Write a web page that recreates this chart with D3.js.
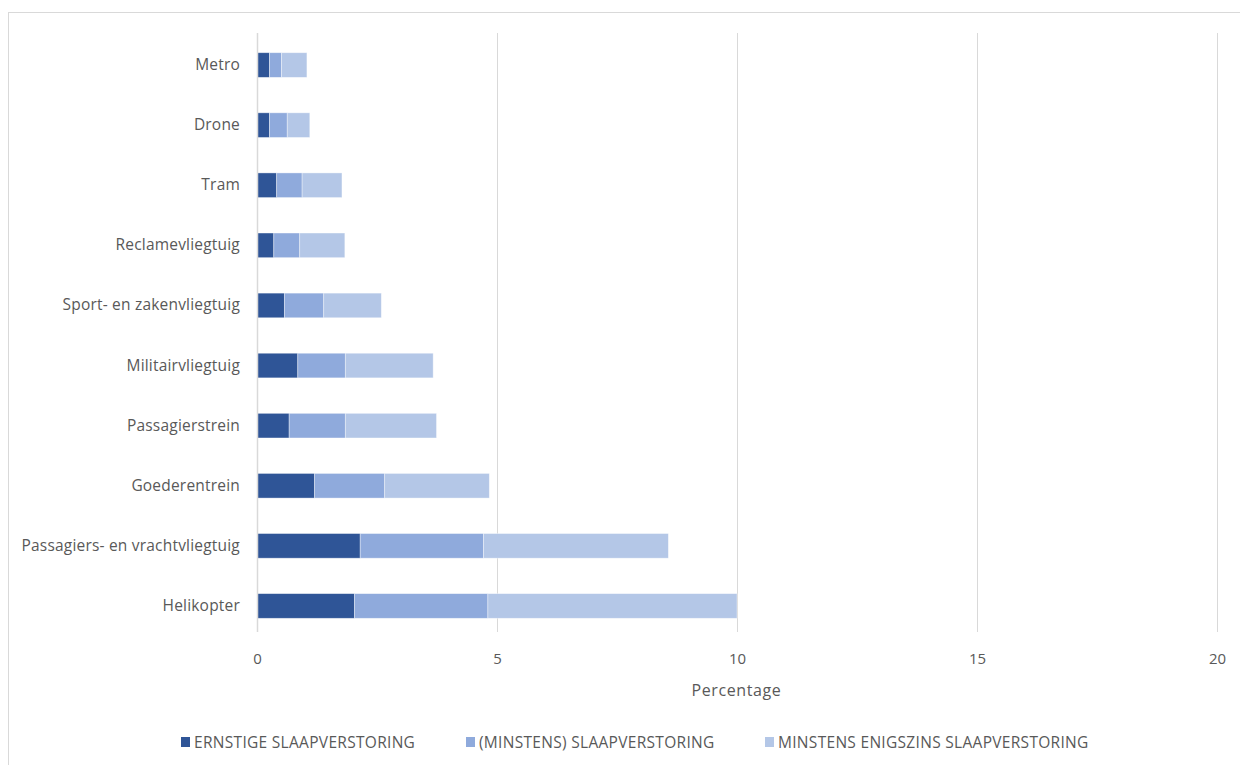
<!DOCTYPE html>
<html>
<head>
<meta charset="utf-8">
<script src="https://cdn.jsdelivr.net/npm/d3@7"></script>
<style>
  html, body { margin: 0; padding: 0; background: #fff; }
  svg { display: block; font-family: "Open Sans", "Liberation Sans", Arial, sans-serif; }
</style>
</head>
<body>
<svg id="chart" width="1240" height="765"></svg>
<script>
const categories = ["Metro", "Drone", "Tram", "Reclamevliegtuig", "Sport- en zakenvliegtuig",
  "Militairvliegtuig", "Passagierstrein", "Goederentrein", "Passagiers- en vrachtvliegtuig", "Helikopter"];
const seriesNames = ["ERNSTIGE SLAAPVERSTORING", "(MINSTENS) SLAAPVERSTORING", "MINSTENS ENIGSZINS SLAAPVERSTORING"];
const ernstig   = [0.26, 0.26, 0.41, 0.35, 0.57, 0.85, 0.67, 1.20, 2.15, 2.03];
const minstens  = [0.25, 0.37, 0.53, 0.54, 0.82, 0.99, 1.17, 1.46, 2.57, 2.78];
const enigszins = [0.53, 0.47, 0.83, 0.94, 1.20, 1.83, 1.90, 2.18, 3.85, 5.19];
const xTicks = [0, 5, 10, 15, 20];
const colors = ["#2F5597", "#8FAADC", "#B4C7E7"];
const axisTitle = "Percentage";

(function () {
const FONT = "Open Sans, Liberation Sans, Arial, sans-serif";
const svg = d3.select("#chart");
svg.append("rect").attr("x", 8.5).attr("y", 12.5).attr("width", 1260).attr("height", 800)
  .attr("fill", "#fff").attr("stroke", "#d9d9d9").attr("stroke-width", 1);

const pL = 257, pR = 1217, pT = 33, pB = 632;
const x = d3.scaleLinear().domain([0, 20]).range([pL, pR]);
const y = d3.scaleBand().domain(categories).range([pT, 638]).paddingInner(0.59).paddingOuter(0.328);

svg.append("g").selectAll("line").data(xTicks.slice(1)).join("line")
  .attr("x1", d => x(d) + 0.5).attr("x2", d => x(d) + 0.5)
  .attr("y1", pT).attr("y2", pB)
  .attr("stroke", "#d9d9d9").attr("stroke-width", 1);

const rows = categories.map((c, i) => ({cat: c, s0: ernstig[i], s1: minstens[i], s2: enigszins[i]}));
const stack = d3.stack().keys(["s0", "s1", "s2"])(rows);

svg.append("g").selectAll("g").data(stack).join("g")
  .attr("fill", (d, i) => colors[i])
  .selectAll("rect").data(d => d).join("rect")
  .attr("x", d => x(d[0]))
  .attr("width", d => x(d[1]) - x(d[0]))
  .attr("y", d => y(d.data.cat))
  .attr("height", y.bandwidth())
  .attr("stroke", "#ffffff").attr("stroke-opacity", 0.5).attr("stroke-width", 0.75);

svg.append("line").attr("x1", pL + 0.5).attr("x2", pL + 0.5).attr("y1", pT).attr("y2", pB)
  .attr("stroke", "#d9d9d9").attr("stroke-width", 1.5);

const yAxis = d3.axisLeft(y).tickSize(0).tickPadding(17);
const yg = svg.append("g").attr("transform", `translate(${pL},0)`).call(yAxis);
yg.select(".domain").remove();
yg.selectAll("text").attr("fill", "#595959").attr("font-size", 15.5)
  .attr("letter-spacing", 0.2).attr("font-family", FONT);

const xAxis = d3.axisBottom(x).tickValues(xTicks).tickSize(0).tickPadding(21).tickFormat(d3.format("d"));
const xg = svg.append("g").attr("transform", `translate(0,${pB})`).call(xAxis);
xg.select(".domain").remove();
xg.selectAll("text").attr("fill", "#595959").attr("font-size", 15).attr("font-family", FONT);

svg.append("text").attr("x", (pL + pR) / 2 - 0.5).attr("y", 696).attr("text-anchor", "middle")
  .attr("fill", "#595959").attr("font-size", 16).attr("letter-spacing", 0.6)
  .attr("font-family", FONT).text(axisTitle);

const legendX = [181, 466, 765];
const lg = svg.append("g").selectAll("g").data(seriesNames).join("g")
  .attr("transform", (d, i) => `translate(${legendX[i]},737)`);
lg.append("rect").attr("width", 9).attr("height", 10).attr("fill", (d, i) => colors[i]);
lg.append("text").attr("x", 13).attr("y", 11).attr("fill", "#595959").attr("font-size", 15.5)
  .attr("letter-spacing", 0.3).attr("font-family", FONT).text(d => d);
})();
</script>
</body>
</html>
